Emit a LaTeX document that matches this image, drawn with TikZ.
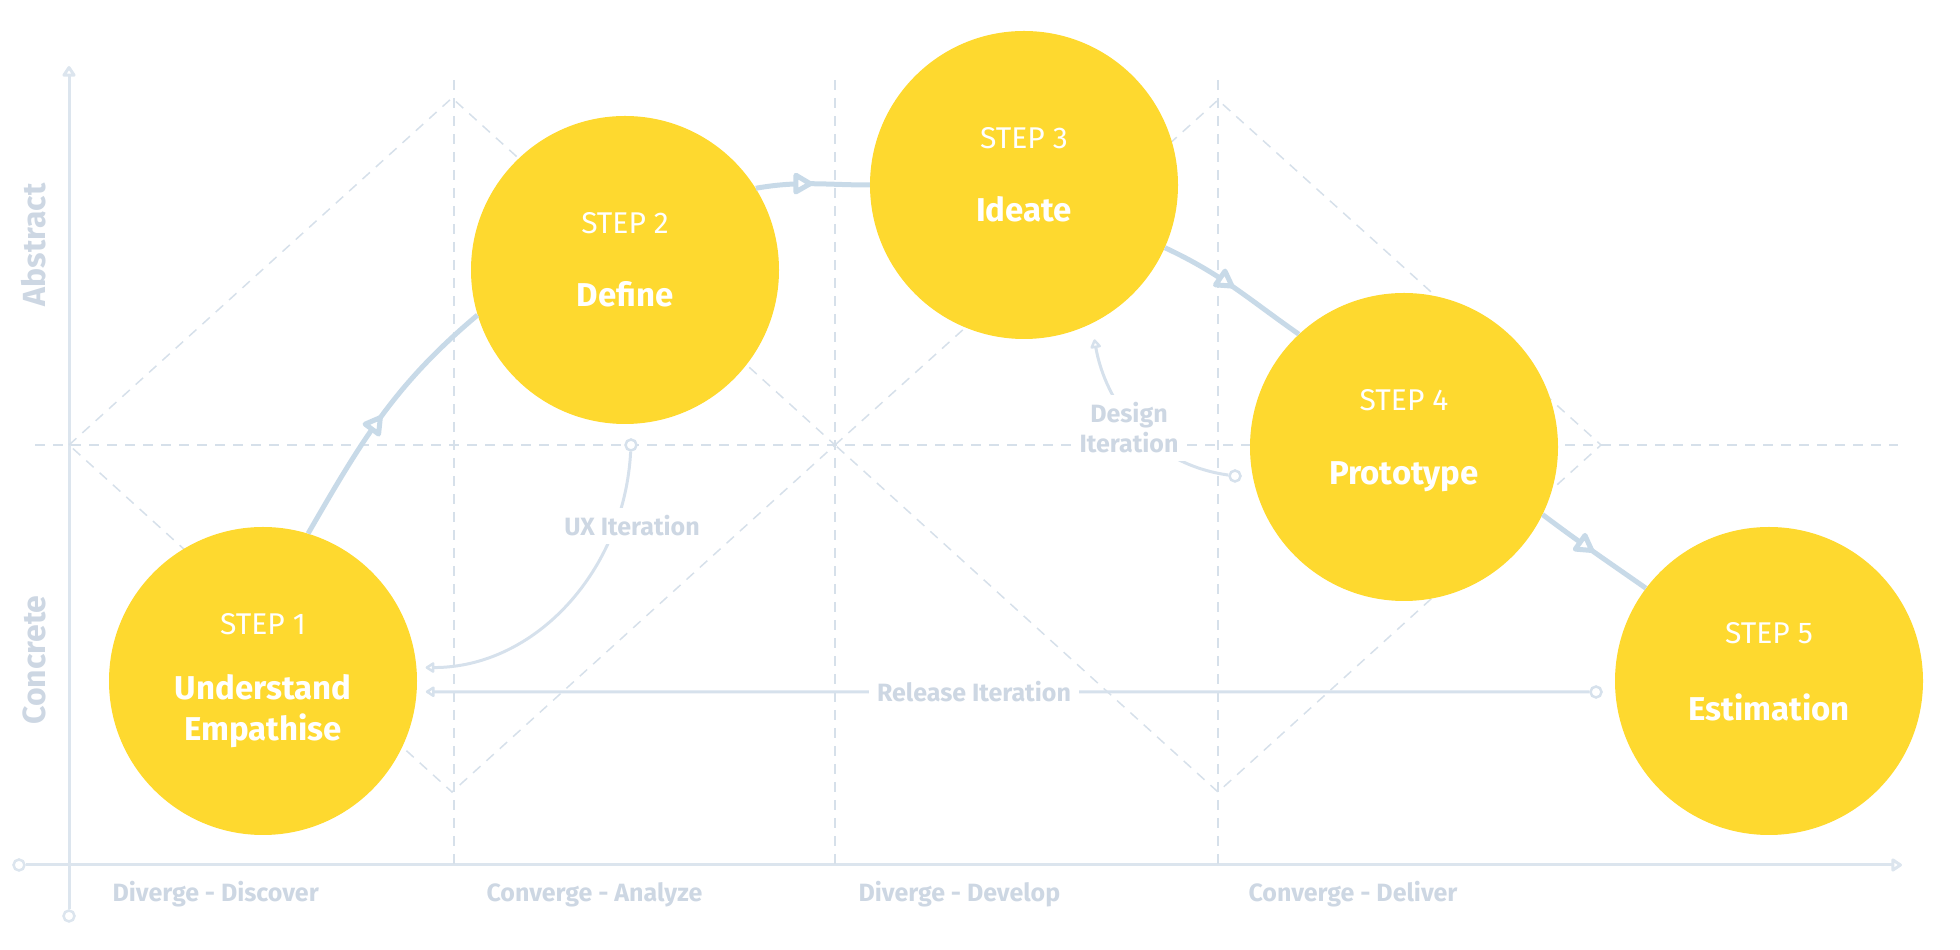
\documentclass[tikz,border=0pt]{standalone}
\usepackage{fontspec}
\setmainfont{Fira Sans}
\usetikzlibrary{arrows.meta,positioning,decorations.markings}
\definecolor{StepYellow}{RGB}{254,217,47}
\definecolor{AxisGray}{RGB}{220,229,238}
\definecolor{GridGray}{RGB}{214,224,234}
\definecolor{FlowBlue}{RGB}{200,218,232}
\definecolor{IterGray}{RGB}{214,225,236}
\definecolor{LabelGray}{RGB}{205,215,227}

\begin{document}
\begin{tikzpicture}[x=1pt,y=1pt,
 stepc/.style={circle,fill=StepYellow,minimum size=308pt,inner sep=0pt},
 stepno/.style={anchor=base,text=white,font=\fontsize{30}{30}\selectfont},
 stepname/.style={anchor=base,text=white,align=center,
  font=\fontsize{33}{41}\selectfont\bfseries},
 axis/.style={line width=3pt,draw=AxisGray,
  -{Triangle[open,length=12pt,width=15pt,round]}},
 grid/.style={line width=2pt,draw=GridGray,dash pattern=on 10pt off 8pt},
 diag/.style={line width=1.5pt,draw=GridGray,dash pattern=on 10pt off 8pt},
 flow/.style={line width=5pt,draw=FlowBlue,postaction={decorate},
  decoration={markings,mark=at position 0.5 with
  {\arrow{Triangle[fill=white,length=22pt,width=24pt,round,line width=5pt]}}}},
 iter/.style={line width=3pt,draw=IterGray,
  -{Triangle[open,length=10pt,width=12pt,round]}},
 dot/.style={circle,draw=IterGray,line width=2.5pt,fill=white,
  minimum size=11pt,inner sep=0pt},
 iterlbl/.style={fill=white,text=LabelGray,align=center,inner sep=8pt,
  font=\fontsize{25}{30}\selectfont\bfseries},
 phase/.style={anchor=base west,text=LabelGray,
  font=\fontsize{25}{30}\selectfont\bfseries},
 side/.style={rotate=90,text=LabelGray,font=\fontsize{32}{36}\selectfont\bfseries}]
\useasboundingbox (0,0) rectangle (1960,950);

\node[dot,draw=AxisGray] (xo) at (19,85) {};
\node[dot,draw=AxisGray] (yo) at (69,34) {};
\coordinate (xend) at (1902,85);
\coordinate (yend) at (69,884);
\draw[axis] (xo) -- (xend);
\draw[axis] (yo) -- (yend);

\draw[grid] (35,505) -- (1898,505);
\foreach \x in {454,835,1218}
  \draw[grid] (\x,870) -- (\x,85);
\draw[diag] (69,505) -- (452,852) -- (835,505) -- (452,158) -- cycle;
\draw[diag] (835,505) -- (1218,850) -- (1601,505) -- (1218,158) -- cycle;

\node[stepc] (s1) at (263,269) {};
\node[stepc] (s2) at (625,680) {};
\node[stepc] (s3) at (1024,765) {};
\node[stepc] (s4) at (1404,503) {};
\node[stepc] (s5) at (1769,269) {};

\node[stepno] (s1no) at ([yshift=46pt]s1.center) {STEP 1};
\node[stepname] (s1nm) at ([yshift=-60pt]s1.center) {Understand\\Empathise};
\node[stepno] (s2no) at ([yshift=36pt]s2.center) {STEP 2};
\node[stepname] (s2nm) at ([yshift=-37pt]s2.center) {Define};
\node[stepno] (s3no) at ([yshift=36pt]s3.center) {STEP 3};
\node[stepname] (s3nm) at ([yshift=-37pt]s3.center) {Ideate};
\node[stepno] (s4no) at ([yshift=36pt]s4.center) {STEP 4};
\node[stepname] (s4nm) at ([yshift=-38pt]s4.center) {Prototype};
\node[stepno] (s5no) at ([yshift=37pt]s5.center) {STEP 5};
\node[stepname] (s5nm) at ([yshift=-40pt]s5.center) {Estimation};

\draw[flow] (s1.73) to[out=60,in=220] (s2.197);
\draw[flow] (s2.32) to[out=10,in=180] (s3.180);
\draw[flow] (s3.-24) to[out=-25,in=145] (s4.133);
\draw[flow] (s4.-26) to[out=-37,in=145] (s5.143);

\node[dot] (uxs) at (631,505) {};
\draw[iter,shorten >=9pt] (uxs) to[out=-93,in=0] (s1.5);
\node[iterlbl] (uxl) at (632,424) {UX Iteration};

\node[dot] (dis) at (1235,474) {};
\draw[iter,shorten >=16pt] (dis) to[out=172,in=-80] (s3.-64);
\node[iterlbl] (dil) at (1129,522) {Design\\Iteration};

\node[dot] (rls) at (1596,258) {};
\draw[iter,shorten >=9pt] (rls) -- (s1.-4);
\node[iterlbl] (rll) at (974,258) {Release Iteration};

\node[side] (abs) at (34,705) {Abstract};
\node[side] (con) at (34,290) {Concrete};

\node[phase] (ph1) at (109,48) {Diverge - Discover};
\node[phase] (ph2) at (483,48) {Converge - Analyze};
\node[phase] (ph3) at (855,48) {Diverge - Develop};
\node[phase] (ph4) at (1245,48) {Converge - Deliver};
\end{tikzpicture}
\end{document}
